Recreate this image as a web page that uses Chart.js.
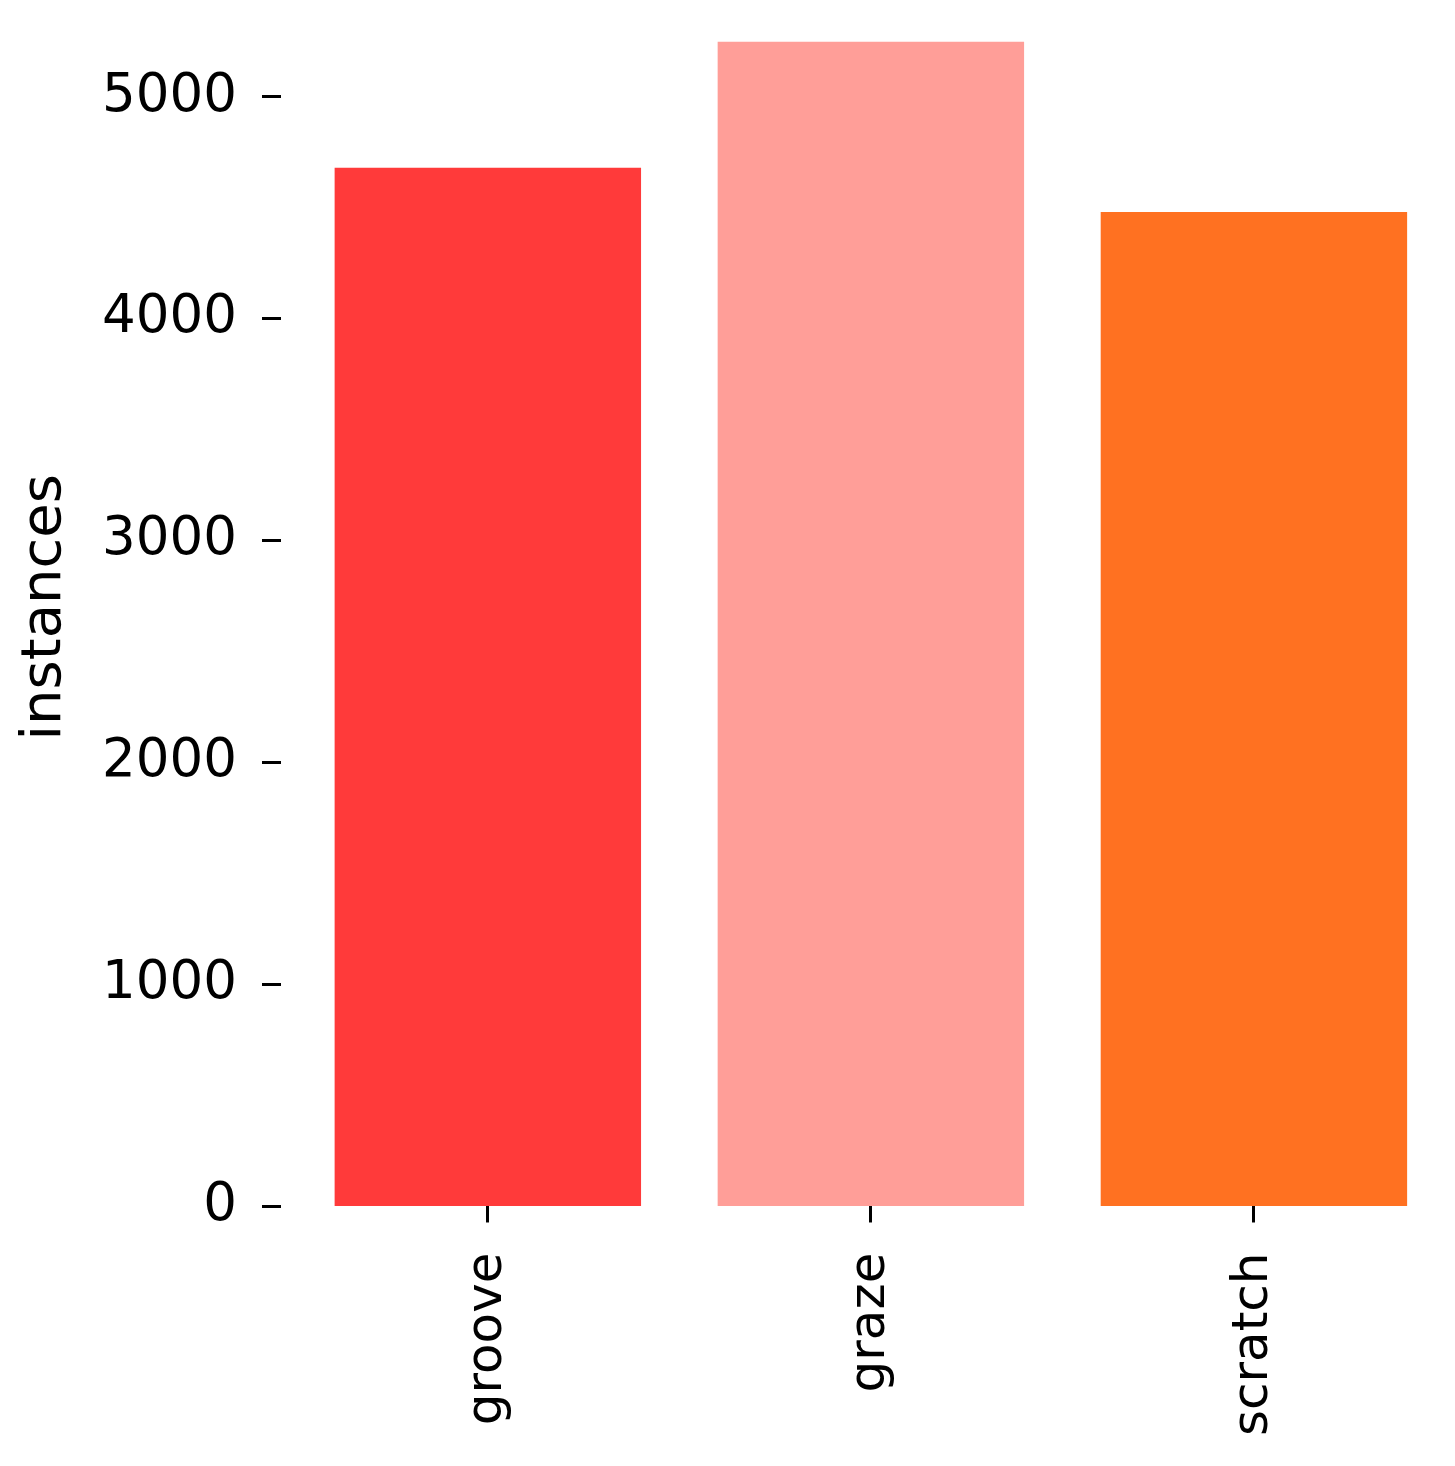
<!DOCTYPE html>
<html>
<head>
<meta charset="utf-8">
<script src="https://cdn.jsdelivr.net/npm/chart.js@4.4.1/dist/chart.umd.min.js"></script>
<style>
  html, body { margin: 0; padding: 0; background: #fff; }
  #wrap { width: 1455px; height: 1466px; }
</style>
</head>
<body>
<div id="wrap"><canvas id="chart"></canvas></div>
<script>
const categories = ['groove', 'graze', 'scratch'];
const instances = [4680, 5248, 4481];
const barColors = ['rgb(255, 58, 58)', 'rgb(255, 158, 152)', 'rgb(255, 113, 33)'];
const yTicks = [0, 1000, 2000, 3000, 4000, 5000];

const FONT = "'DejaVu Sans', sans-serif";

new Chart(document.getElementById('chart'), {
    type: 'bar',
    data: {
        datasets: [{
            label: 'instances',
            data: instances.map((v, i) => ({ x: i, y: v })),
            backgroundColor: barColors,
            borderWidth: 0,
            barPercentage: 0.8,
            categoryPercentage: 1.0
        }]
    },
    options: {
        responsive: true,
        maintainAspectRatio: false,
        animation: false,
        layout: { padding: { top: 8, bottom: 0, left: 0, right: 0 } },
        plugins: {
            legend: { display: false },
            tooltip: { enabled: false }
        },
        scales: {
            x: {
                type: 'linear',
                min: -0.54,
                max: 2.525,
                offset: false,
                border: { display: false },
                grid: {
                    offset: false,
                    drawOnChartArea: false,
                    drawTicks: true,
                    tickLength: 16,
                    tickWidth: 3,
                    tickColor: '#000'
                },
                afterBuildTicks: s => { s.ticks = categories.map((_, i) => ({ value: i })); },
                ticks: {
                    autoSkip: false,
                    minRotation: 90,
                    maxRotation: 90,
                    padding: 30,
                    color: '#000',
                    font: { family: FONT, size: 50 },
                    callback: v => categories[v]
                }
            },
            y: {
                min: 0,
                max: 5400,
                border: { display: false },
                afterBuildTicks: s => { s.ticks = yTicks.map(v => ({ value: v })); },
                afterFit: s => { s.width = 281; s.paddingTop = 0; s.paddingBottom = 0; },
                grid: {
                    drawOnChartArea: false,
                    drawTicks: true,
                    tickLength: 19,
                    tickWidth: 3,
                    tickColor: '#000'
                },
                ticks: {
                    padding: 25,
                    color: '#000',
                    font: { family: FONT, size: 53 },
                    callback: v => String(v)
                },
                title: {
                    display: true,
                    text: 'instances',
                    color: '#000',
                    font: { family: FONT, size: 56 },
                    padding: { top: 12, bottom: 0 }
                }
            }
        }
    }
});
</script>
</body>
</html>
